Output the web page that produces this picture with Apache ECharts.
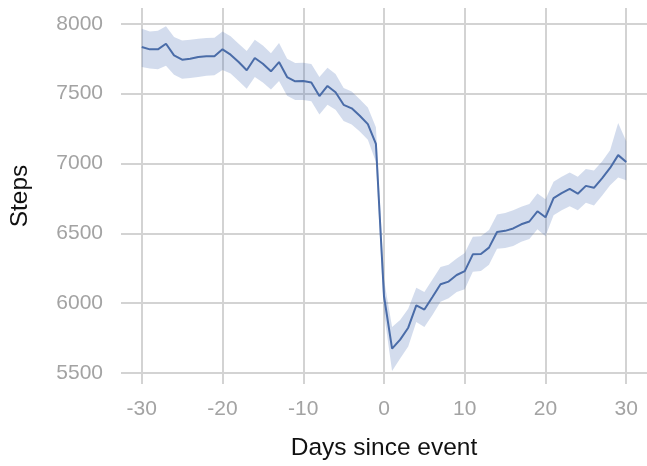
<!DOCTYPE html>
<html>
<head>
<meta charset="utf-8">
<script src="https://cdn.jsdelivr.net/npm/echarts@6/dist/echarts.min.js"></script>
<style>html,body{margin:0;padding:0;background:#fff;}#chart{width:647px;height:466px;}</style>
</head>
<body>
<div id="chart"></div>
<script>
const days = [-30,-29,-28,-27,-26,-25,-24,-23,-22,-21,-20,-19,-18,-17,-16,-15,-14,-13,-12,-11,-10,-9,-8,-7,-6,-5,-4,-3,-2,-1,0,1,2,3,4,5,6,7,8,9,10,11,12,13,14,15,16,17,18,19,20,21,22,23,24,25,26,27,28,29,30];
const meanSteps = [7834,7817,7817,7857,7774,7743,7750,7762,7767,7767,7817,7779,7726,7667,7755,7714,7660,7726,7619,7588,7590,7580,7483,7555,7510,7420,7395,7342,7282,7140,6050,5675,5740,5825,5985,5955,6045,6136,6155,6202,6230,6350,6352,6398,6510,6518,6535,6565,6585,6658,6615,6752,6788,6818,6784,6840,6826,6893,6968,7060,7010];
const upperSteps = [7964,7945,7950,7983,7905,7881,7885,7893,7898,7900,7945,7910,7857,7805,7885,7845,7790,7862,7750,7720,7722,7712,7620,7685,7640,7540,7515,7460,7400,7260,6170,5830,5880,5960,6110,6080,6170,6260,6275,6320,6360,6475,6480,6525,6635,6645,6665,6690,6710,6785,6745,6870,6905,6935,6905,6960,6950,7015,7095,7290,7160];
const lowerSteps = [7690,7680,7675,7700,7635,7607,7612,7620,7628,7632,7670,7645,7590,7535,7620,7580,7530,7590,7485,7455,7455,7445,7350,7420,7385,7305,7280,7230,7170,7010,5930,5515,5605,5690,5865,5830,5915,6010,6035,6080,6100,6225,6230,6275,6390,6395,6410,6440,6460,6530,6480,6630,6665,6695,6665,6720,6700,6770,6845,6900,6880];
const xTicks = [-30,-20,-10,0,10,20,30];
const yTicks = [5500,6000,6500,7000,7500,8000];

const chart = echarts.init(document.getElementById('chart'), null, {renderer:'canvas'});
const FONT = 'Liberation Sans';
const bandData = days.map((d,i)=>[d, lowerSteps[i], upperSteps[i]]);
const meanData = days.map((d,i)=>[d, meanSteps[i]]);
const gridLine = {show:true, lineStyle:{color:'#d3d3d3', width:2}};
chart.setOption({
  animation:false,
  backgroundColor:'#ffffff',
  grid:{left:117, right:0, top:8, bottom:80, containLabel:false},
  xAxis:{
    type:'value', min:-32.57, max:32.57,
    axisLine:{show:false},
    axisTick:{show:false, customValues:xTicks},
    axisLabel:{customValues:xTicks, formatter:v=>String(v), color:'#a3a3a3', fontSize:21, fontFamily:FONT, margin:15},
    splitLine:gridLine,
    name:'Days since event', nameLocation:'middle', nameGap:52,
    nameTextStyle:{color:'#111', fontSize:24.5, fontFamily:FONT}
  },
  yAxis:{
    type:'value', min:5422, max:8113,
    axisLine:{show:false},
    axisTick:{show:false, customValues:yTicks},
    axisLabel:{customValues:yTicks, formatter:v=>String(v), color:'#a3a3a3', fontSize:21, fontFamily:FONT, margin:18},
    splitLine:gridLine,
    name:'Steps', nameLocation:'middle', nameGap:88, nameRotate:90,
    nameTextStyle:{color:'#111', fontSize:24.5, fontFamily:FONT}
  },
  series:[
    {
      type:'custom', data:bandData, silent:true, clip:true,
      encode:{x:0, y:[1,2]},
      renderItem:function(params, api){
        if (params.dataIndex !== 0) return null;
        const pts = [];
        for (let i = 0; i < bandData.length; i++) pts.push(api.coord([bandData[i][0], bandData[i][2]]));
        for (let i = bandData.length - 1; i >= 0; i--) pts.push(api.coord([bandData[i][0], bandData[i][1]]));
        return {type:'polygon', shape:{points:pts}, style:{fill:'rgba(70,110,180,0.24)', stroke:'none'}};
      }
    },
    {type:'line', data:meanData, symbol:'none', lineStyle:{color:'#4a6ca8', width:2}}
  ]
});
</script>
</body>
</html>
